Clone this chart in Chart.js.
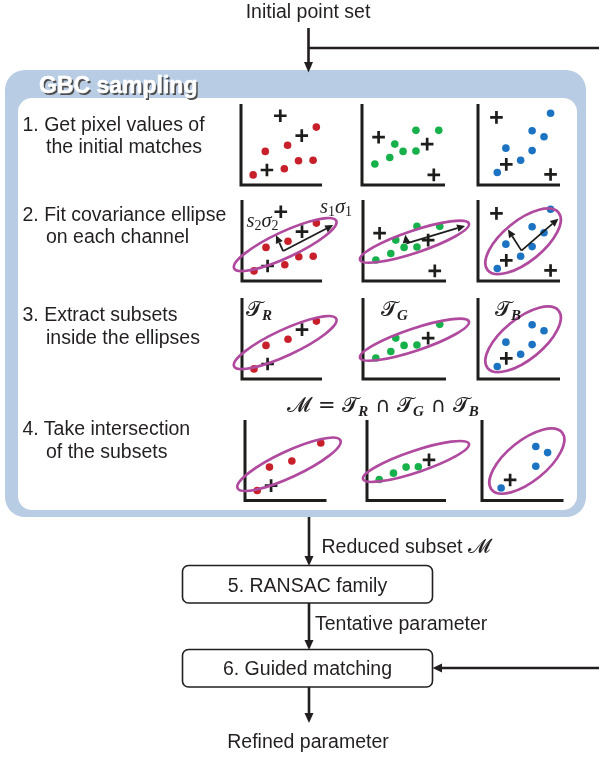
<!DOCTYPE html>
<html>
<head>
<meta charset="utf-8">
<script src="https://cdn.jsdelivr.net/npm/chart.js@4.4.1/dist/chart.umd.min.js"></script>
<style>
  html, body { margin: 0; padding: 0; background: #fff; }
  #page { position: relative; width: 599px; height: 757px; overflow: hidden; }
  #page svg, #page canvas { position: absolute; }
  #bg { left: 0; top: 0; z-index: 0; }
  #fg { left: 0; top: 0; z-index: 2; pointer-events: none; }
  canvas { z-index: 1; }
  .t { font-family: "Liberation Sans", Arial, sans-serif; font-size: 19.5px; fill: #231f20; }
  .math { font-family: "DejaVu Sans", "Noto Sans", serif; }
  .sub { font-family: "Liberation Serif", serif; font-style: italic; font-weight: bold; }
</style>
</head>
<body>
<div id="page">
  <svg id="bg" width="599" height="757">
    <rect x="5" y="70" width="581" height="447" rx="20" fill="#b8cce4"/>
    <rect x="18" y="98" width="559" height="412" rx="14" fill="#fff"/>
    <rect x="182.5" y="565.5" width="250" height="37.5" rx="6" fill="#fff" stroke="#231f20" stroke-width="1.6"/>
    <rect x="182.5" y="649.5" width="250" height="37.5" rx="6" fill="#fff" stroke="#231f20" stroke-width="1.6"/>
  </svg>

  <svg id="fg" width="599" height="757">
    <g stroke="#231f20" stroke-width="2.6" fill="none">
      <path d="M308.5 28 V63 M308.5 48 H599"/>
      <path d="M309 517 V557"/>
      <path d="M309 603 V641"/>
      <path d="M599 668 H441"/>
      <path d="M309 687 V715"/>
    </g>
    <g fill="#231f20">
      <polygon points="304,62 313,62 308.5,72.5"/>
      <polygon points="304.5,556 313.5,556 309,566"/>
      <polygon points="304.5,640 313.5,640 309,650"/>
      <polygon points="442,663.5 442,672.5 432.5,668"/>
      <polygon points="304.5,713 313.5,713 309,723"/>
    </g>

    <text class="t" x="308" y="18" text-anchor="middle">Initial point set</text>

    <text x="40.8" y="94.8" font-family="Liberation Sans, Arial, sans-serif" font-weight="bold" font-size="23" fill="#4d4d4d">GBC sampling</text>
    <text x="39" y="93" font-family="Liberation Sans, Arial, sans-serif" font-weight="bold" font-size="23" fill="#fff" stroke="#fff" stroke-width="0.5">GBC sampling</text>

    <text class="t" x="22.5" y="131">1. Get pixel values of</text>
    <text class="t" x="46" y="153">the initial matches</text>
    <text class="t" x="22.5" y="220.5">2. Fit covariance ellipse</text>
    <text class="t" x="46" y="243">on each channel</text>
    <text class="t" x="22.5" y="320.5">3. Extract subsets</text>
    <text class="t" x="46" y="344">inside the ellipses</text>
    <text class="t" x="22.5" y="435">4. Take intersection</text>
    <text class="t" x="46" y="458">of the subsets</text>

    <text x="320" y="213" font-family="Liberation Serif, serif" font-style="italic" font-size="20.5" fill="#231f20">s<tspan font-size="14" font-style="normal" dy="3">1</tspan><tspan dy="-3">σ</tspan><tspan font-size="14" font-style="normal" dy="3">1</tspan></text>
    <text x="246.5" y="227" font-family="Liberation Serif, serif" font-style="italic" font-size="20.5" fill="#231f20">s<tspan font-size="14" font-style="normal" dy="3">2</tspan><tspan dy="-3">σ</tspan><tspan font-size="14" font-style="normal" dy="3">2</tspan></text>

    <text x="246" y="316" class="math" font-size="21" fill="#231f20">𝓣<tspan class="sub" font-size="15" dy="4">R</tspan></text>
    <text x="381" y="316" class="math" font-size="21" fill="#231f20">𝓣<tspan class="sub" font-size="15" dy="4">G</tspan></text>
    <text x="495" y="316" class="math" font-size="21" fill="#231f20">𝓣<tspan class="sub" font-size="15" dy="4">B</tspan></text>

    <text x="383" y="412" text-anchor="middle" class="math" font-size="21" fill="#231f20">𝓜 = 𝓣<tspan class="sub" font-size="15" dy="4">R</tspan><tspan dy="-4"> ∩ 𝓣</tspan><tspan class="sub" font-size="15" dy="4">G</tspan><tspan dy="-4"> ∩ 𝓣</tspan><tspan class="sub" font-size="15" dy="4">B</tspan></text>

    <text class="t" x="321.5" y="553">Reduced subset <tspan class="math">𝓜</tspan></text>
    <text class="t" x="307.5" y="592" text-anchor="middle">5. RANSAC family</text>
    <text class="t" x="315" y="630">Tentative parameter</text>
    <text class="t" x="307.5" y="675" text-anchor="middle">6. Guided matching</text>
    <text class="t" x="308" y="748" text-anchor="middle">Refined parameter</text>
  </svg>
</div>

<script>
/* ================================
   Data (units of the small axes, 0..10)
================================ */
const RED = "#c8202b";
const GREEN = "#17b14c";
const BLUE = "#1b73c1";

// initial matches per channel: dots = correct, crosses = outliers
const redPoints = [[1.5, 1.25], [3.0, 4.15], [5.35, 2.0], [5.75, 4.9], [7.1, 3.0], [8.9, 3.05], [9.3, 7.15]];
const redCrosses = [[4.85, 8.55], [7.5, 6.1], [3.2, 1.85]];
const greenPoints = [[1.55, 2.6], [3.35, 3.4], [3.95, 5.05], [4.95, 4.15], [6.5, 4.2], [6.5, 6.75], [9.25, 6.75]];
const greenCrosses = [[2.0, 5.9], [7.85, 5.05], [8.65, 1.25]];
const bluePoints = [[2.35, 1.55], [3.4, 4.55], [5.2, 3.05], [6.6, 4.25], [6.6, 6.7], [8.05, 5.95], [8.85, 8.85]];
const blueCrosses = [[2.25, 8.35], [3.45, 2.55], [8.85, 1.3]];

// step 3: indices inside each ellipse
const redInside = [0, 1, 3, 6];
const redInsideX = [1, 2];
const greenInside = [0, 1, 2, 3, 4, 6];
const greenInsideX = [1];
const blueInside = [0, 1, 2, 3, 4, 5];
const blueInsideX = [1];

// step 4: indices in the intersection
const redKept = [0, 1, 3, 6];
const redKeptX = [2];
const greenKept = [0, 1, 3, 4];
const greenKeptX = [1];
const blueKept = [0, 3, 4, 5];
const blueKeptX = [1];

// covariance ellipses: [cx, cy, semi-major, semi-minor, angle deg]
const ellipseR = [5.4, 4.5, 7.0, 1.6, 25];
const ellipseG = [6.2, 4.85, 7.0, 1.35, 18.5];
const ellipseB = [5.5, 4.9, 5.6, 2.5, 39];

// principal axes: [origin, major tip, minor tip]
const axesR = [[5.15, 3.7], [11.4, 6.9], [4.25, 5.65]];
const axesG = [[5.25, 4.65], [12.3, 6.8], [5.1, 5.7]];
const axesB = [[5.3, 3.75], [9.8, 7.7], [3.65, 6.35]];

/* ================================
   Layout
================================ */
const PAD = { left: 16, right: 28, top: 14, bottom: 8 };
const rowTop = [104, 200, 298, 419.5];
const rowBottom = [185, 281, 379, 500];
const rowCols = [
  [[241, 81], [362, 83], [478, 82]],
  [[241.7, 80], [363.3, 83], [478, 82]],
  [[241.7, 80], [363.3, 83], [478, 82]],
  [[245, 81.5], [366.7, 79], [481.7, 81.5]]
];

/* ================================
   Plugin: axes, ellipse, arrows
================================ */
function drawArrow(ctx, x0, y0, x1, y1) {
  const ang = Math.atan2(y1 - y0, x1 - x0);
  const len = 8, half = 3.8;
  const bx = x1 - Math.cos(ang) * len, by = y1 - Math.sin(ang) * len;
  ctx.beginPath();
  ctx.moveTo(x0, y0);
  ctx.lineTo(bx, by);
  ctx.stroke();
  ctx.beginPath();
  ctx.moveTo(x1, y1);
  ctx.lineTo(bx - Math.sin(ang) * half, by + Math.cos(ang) * half);
  ctx.lineTo(bx + Math.sin(ang) * half, by - Math.cos(ang) * half);
  ctx.closePath();
  ctx.fill();
}

const panelDecor = {
  id: "panelDecor",
  beforeDatasetsDraw(chart) {
    const { ctx, scales: { x, y } } = chart;
    ctx.save();
    ctx.strokeStyle = "#1d1d1b";
    ctx.lineWidth = 3;
    ctx.lineJoin = "miter";
    ctx.beginPath();
    ctx.moveTo(x.getPixelForValue(0), y.getPixelForValue(10));
    ctx.lineTo(x.getPixelForValue(0), y.getPixelForValue(0));
    ctx.lineTo(x.getPixelForValue(10), y.getPixelForValue(0));
    ctx.stroke();
    ctx.restore();
  },
  afterDatasetsDraw(chart, args, opts) {
    const { ctx, scales: { x, y } } = chart;
    const sx = x.getPixelForValue(1) - x.getPixelForValue(0);
    const sy = y.getPixelForValue(0) - y.getPixelForValue(1);
    const s = (sx + sy) / 2;
    ctx.save();
    if (opts.ellipse) {
      const [cx, cy, a, b, deg] = opts.ellipse;
      ctx.strokeStyle = "#b04a9f";
      ctx.lineWidth = 2.7;
      ctx.beginPath();
      ctx.ellipse(x.getPixelForValue(cx), y.getPixelForValue(cy), a * s, b * s, -deg * Math.PI / 180, 0, Math.PI * 2);
      ctx.stroke();
    }
    if (opts.arrows) {
      const [o, p1, p2] = opts.arrows;
      ctx.strokeStyle = "#1d1d1b";
      ctx.fillStyle = "#1d1d1b";
      ctx.lineWidth = 1.8;
      const ox = x.getPixelForValue(o[0]), oy = y.getPixelForValue(o[1]);
      drawArrow(ctx, ox, oy, x.getPixelForValue(p1[0]), y.getPixelForValue(p1[1]));
      drawArrow(ctx, ox, oy, x.getPixelForValue(p2[0]), y.getPixelForValue(p2[1]));
    }
    ctx.restore();
  }
};

/* ================================
   Panel builder
================================ */
function pick(list, idx) {
  return (idx || list.map((_, i) => i)).map(i => ({ x: list[i][0], y: list[i][1] }));
}

function makePanel(row, col, color, pts, crosses, ptIdx, crossIdx, ellipse, arrows) {
  const [left, w] = rowCols[row][col];
  const top = rowTop[row];
  const h = rowBottom[row] - top;
  const canvas = document.createElement("canvas");
  canvas.width = Math.round(w + PAD.left + PAD.right);
  canvas.height = Math.round(h + PAD.top + PAD.bottom);
  canvas.style.left = (left - PAD.left) + "px";
  canvas.style.top = (top - PAD.top) + "px";
  document.getElementById("page").appendChild(canvas);

  new Chart(canvas, {
    type: "scatter",
    data: {
      datasets: [
        {
          data: pick(pts, ptIdx),
          pointStyle: "circle",
          pointRadius: 3.8,
          backgroundColor: color,
          borderWidth: 0,
          clip: false
        },
        {
          data: pick(crosses, crossIdx),
          pointStyle: "cross",
          pointRadius: 6.3,
          borderColor: "#1d1d1b",
          borderWidth: 2.7,
          clip: false
        }
      ]
    },
    options: {
      responsive: false,
      animation: false,
      events: [],
      layout: {
        autoPadding: false,
        padding: {
          left: PAD.left,
          right: canvas.width - PAD.left - w,
          top: PAD.top,
          bottom: canvas.height - PAD.top - h
        }
      },
      scales: {
        x: { type: "linear", min: 0, max: 10, display: false },
        y: { type: "linear", min: 0, max: 10, display: false }
      },
      plugins: {
        legend: { display: false },
        tooltip: { enabled: false },
        panelDecor: { ellipse, arrows }
      }
    },
    plugins: [panelDecor]
  });
}

/* ================================
   Init
================================ */
// 1. initial matches
makePanel(0, 0, RED, redPoints, redCrosses, null, null, null, null);
makePanel(0, 1, GREEN, greenPoints, greenCrosses, null, null, null, null);
makePanel(0, 2, BLUE, bluePoints, blueCrosses, null, null, null, null);
// 2. covariance ellipses
makePanel(1, 0, RED, redPoints, redCrosses, null, null, ellipseR, axesR);
makePanel(1, 1, GREEN, greenPoints, greenCrosses, null, null, ellipseG, axesG);
makePanel(1, 2, BLUE, bluePoints, blueCrosses, null, null, ellipseB, axesB);
// 3. subsets inside the ellipses
makePanel(2, 0, RED, redPoints, redCrosses, redInside, redInsideX, ellipseR, null);
makePanel(2, 1, GREEN, greenPoints, greenCrosses, greenInside, greenInsideX, ellipseG, null);
makePanel(2, 2, BLUE, bluePoints, blueCrosses, blueInside, blueInsideX, ellipseB, null);
// 4. intersection
makePanel(3, 0, RED, redPoints, redCrosses, redKept, redKeptX, ellipseR, null);
makePanel(3, 1, GREEN, greenPoints, greenCrosses, greenKept, greenKeptX, ellipseG, null);
makePanel(3, 2, BLUE, bluePoints, blueCrosses, blueKept, blueKeptX, ellipseB, null);
</script>
</body>
</html>
